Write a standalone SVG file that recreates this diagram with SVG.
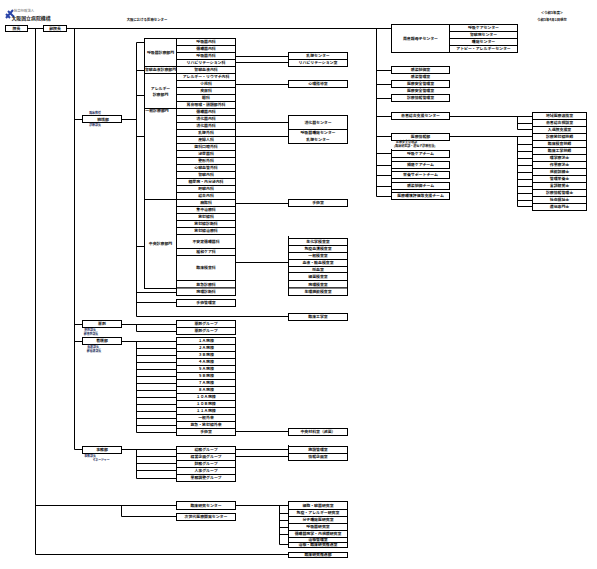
<svg xmlns="http://www.w3.org/2000/svg" width="597" height="569" viewBox="0 0 597 569">
<style>
rect{fill:#fff;stroke:#000;stroke-width:1}
path{fill:none;stroke:#000;stroke-width:1}
text{font-family:"Noto Sans CJK JP","Liberation Sans",sans-serif;font-size:3.9px;font-weight:700;fill:#111;text-anchor:middle}
.l{fill:#1a2a5a;font-size:2.9px}
.m{font-size:3px}
.t{font-size:4.9px;fill:#222}
.s{font-size:3.4px}
</style>
<rect x="0" y="0" width="597" height="569" style="fill:#fff;stroke:none"/>
<g id="header">
<path d="M6 18L13 10M8 11L14 17M6 14L10 18" style="stroke:#2a44a8;stroke-width:2"/>
<text x="24" y="12" class="s" style="fill:#999">独立行政法人</text>
<text x="31" y="20" class="t">大阪国立病院機構</text>
<text x="147" y="21" class="s">大阪における医療センター</text>
<text x="552" y="14" class="s">＜令和5年度＞</text>
<text x="552" y="21" class="s">令和5年4月1日現在</text>
</g>
<g id="connectors">
<path d="M28 28.5H43M66 28.5H391.5M35.5 28.5V554.5H288.5M74.5 28.5V449.5H82.5M74.5 119.5H82.5M74.5 324.5H82.5M74.5 341.5H82.5"/>
<path d="M121.5 119.5H136.5M136.5 42.5V316.5H288.5M136.5 42.5H144.5M136.5 70.5H144.5M136.5 95.5H144.5M136.5 136.5H144.5M136.5 246.5H144.5M136.5 292.5H176.5M136.5 302.5H176.5"/>
<path d="M235.5 56.5H288.5M235.5 62.5H288.5M235.5 84.5H288.5M235.5 122.5H288.5M235.5 136.5H288.5M235.5 203.5H288.5M235.5 262.5H288.5M288.5 236V296"/>
<path d="M121.5 324.5H176.5M136.5 324.5V331.5H176.5"/>
<path d="M121.5 341.5H176.5M136.5 341.5V432.5H176.5M136.5 348.5H176.5M136.5 355.5H176.5M136.5 362.5H176.5M136.5 369.5H176.5M136.5 376.5H176.5M136.5 383.5H176.5M136.5 390.5H176.5M136.5 397.5H176.5M136.5 404.5H176.5M136.5 411.5H176.5M136.5 418.5H176.5M136.5 425.5H176.5M235.5 431.5H288.5"/>
<path d="M121.5 449.5H176.5M136.5 449.5V478.5H176.5M136.5 456.5H176.5M136.5 463.5H176.5M136.5 470.5H176.5M235.5 449.5H288.5M235.5 456.5H288.5M288.5 445V461"/>
<path d="M35.5 505.5H176.5M121.5 505.5V516.5H176.5M235.5 505.5H288.5M279.5 505.5V544.5H288.5M279.5 513.5H288.5M279.5 520.5H288.5M279.5 527.5H288.5M279.5 534.5H288.5"/>
<path d="M376.5 28.5V196.5H391.5M376.5 70.5H391.5M376.5 84.5H391.5M376.5 98.5H391.5M376.5 116.5H391.5M376.5 136.5H391.5M376.5 153.5H391.5M376.5 165.5H391.5M376.5 175.5H391.5M376.5 186.5H391.5M391.5 149V200"/>
<path d="M449.5 116.5H532.5M517.5 116.5V129.5H532.5M517.5 123.5H532.5M449.5 136.5H532.5M517.5 136.5V206.5H532.5M517.5 144.5H532.5M517.5 151.5H532.5M517.5 158.5H532.5M517.5 165.5H532.5M517.5 172.5H532.5M517.5 179.5H532.5M517.5 186.5H532.5M517.5 193.5H532.5M517.5 200.5H532.5"/>
</g>
<g id="n-director"><rect x="5.5" y="25.5" width="22" height="6"/><text x="16.5" y="30">院長</text></g>
<g id="n-vice"><rect x="43.5" y="25.5" width="23" height="6"/><text x="55" y="30">副院長</text></g>
<g id="n-clin"><rect x="82.5" y="115.5" width="39" height="7"/><text x="95" y="114" class="l">臨床教授</text><text x="103" y="120.5">統括部</text><text x="95" y="126" class="l">診療部長</text></g>
<g id="d1"><rect x="144.5" y="38.5" width="32" height="28"/><text x="160.5" y="54">呼吸器診療部門</text></g>
<g id="d2"><rect x="144.5" y="66.5" width="32" height="7"/><text x="160.5" y="71.4">腎臓血液診療部門</text></g>
<g id="d3"><rect x="144.5" y="73.5" width="32" height="35"/><text x="160.5" y="89.5">アレルギー</text><text x="160.5" y="95.5">診療部門</text></g>
<g id="d4"><rect x="144.5" y="108.5" width="32" height="91"/><text x="157" y="112">一般診療部門</text></g>
<g id="d5"><rect x="144.5" y="199.5" width="32" height="89"/><text x="160.5" y="245">中央診療部門</text></g>
<g id="r1"><rect x="176.5" y="38.5" width="59" height="7"/><text x="206" y="43.4">呼吸器内科</text></g>
<g id="r2"><rect x="176.5" y="45.5" width="59" height="7"/><text x="206" y="50.4">循環器内科</text></g>
<g id="r3"><rect x="176.5" y="52.5" width="59" height="7"/><text x="206" y="57.4">呼吸器外科</text></g>
<g id="r4"><rect x="176.5" y="59.5" width="59" height="7"/><text x="206" y="64.4">リハビリテーション科</text></g>
<g id="r5"><rect x="176.5" y="66.5" width="59" height="7"/><text x="206" y="71.4">腎臓血液内科</text></g>
<g id="r6"><rect x="176.5" y="73.5" width="59" height="7"/><text x="206" y="78.4">アレルギー・リウマチ内科</text></g>
<g id="r7"><rect x="176.5" y="80.5" width="59" height="7"/><text x="206" y="85.4">小児科</text></g>
<g id="r8"><rect x="176.5" y="87.5" width="59" height="7"/><text x="206" y="92.4">皮膚科</text></g>
<g id="r9"><rect x="176.5" y="94.5" width="59" height="7"/><text x="206" y="99.4">眼科</text></g>
<g id="r10"><rect x="176.5" y="101.5" width="59" height="7"/><text x="206" y="106.4">耳鼻咽喉・頭頸部外科</text></g>
<g id="r11"><rect x="176.5" y="108.5" width="59" height="7"/><text x="206" y="113.4">循環器内科</text></g>
<g id="r12"><rect x="176.5" y="115.5" width="59" height="7"/><text x="206" y="120.4">消化器内科</text></g>
<g id="r13"><rect x="176.5" y="122.5" width="59" height="7"/><text x="206" y="127.4">消化器外科</text></g>
<g id="r14"><rect x="176.5" y="129.5" width="59" height="7"/><text x="206" y="134.4">乳腺外科</text></g>
<g id="r15"><rect x="176.5" y="136.5" width="59" height="7"/><text x="206" y="141.4">産婦人科</text></g>
<g id="r16"><rect x="176.5" y="143.5" width="59" height="7"/><text x="206" y="148.4">歯科口腔外科</text></g>
<g id="r17"><rect x="176.5" y="150.5" width="59" height="7"/><text x="206" y="155.4">泌尿器科</text></g>
<g id="r18"><rect x="176.5" y="157.5" width="59" height="7"/><text x="206" y="162.4">整形外科</text></g>
<g id="r19"><rect x="176.5" y="164.5" width="59" height="7"/><text x="206" y="169.4">心臓血管外科</text></g>
<g id="r20"><rect x="176.5" y="171.5" width="59" height="7"/><text x="206" y="176.4">腎臓内科</text></g>
<g id="r21"><rect x="176.5" y="178.5" width="59" height="7"/><text x="206" y="183.4">糖尿病・内分泌内科</text></g>
<g id="r22"><rect x="176.5" y="185.5" width="59" height="7"/><text x="206" y="190.4">肝臓内科</text></g>
<g id="r23"><rect x="176.5" y="192.5" width="59" height="7"/><text x="206" y="197.4">総合内科</text></g>
<g id="r24"><rect x="176.5" y="199.5" width="59" height="7"/><text x="206" y="204.4">麻酔科</text></g>
<g id="r25"><rect x="176.5" y="206.5" width="59" height="7"/><text x="206" y="211.4">集中治療科</text></g>
<g id="r26"><rect x="176.5" y="213.5" width="59" height="7"/><text x="206" y="218.4">放射線科</text></g>
<g id="r27"><rect x="176.5" y="220.5" width="59" height="7"/><text x="206" y="225.4">放射線診断科</text></g>
<g id="r28"><rect x="176.5" y="227.5" width="59" height="7"/><text x="206" y="232.4">放射線治療科</text></g>
<g id="r29"><rect x="176.5" y="234.5" width="59" height="14"/><text x="206" y="242.9">不安定循環器科</text></g>
<g id="r30"><rect x="176.5" y="248.5" width="59" height="7"/><text x="206" y="253.4">緩和ケア科</text></g>
<g id="r31"><rect x="176.5" y="255.5" width="59" height="25"/><text x="206" y="269.4">臨床検査科</text></g>
<g id="r32"><rect x="176.5" y="280.5" width="59" height="7.5"/><text x="206" y="285.6">救急診療科</text></g>
<g id="r33"><rect x="176.5" y="288" width="59" height="7.5"/><text x="206" y="293.2">病理診断科</text></g>
<g id="r34"><rect x="176.5" y="299.5" width="59" height="7"/><text x="206" y="304.4">手術管理室</text></g>
<g id="c1"><rect x="288.5" y="52.5" width="59" height="7"/><text x="318" y="57.4">乳腺センター</text></g>
<g id="c2"><rect x="288.5" y="59.5" width="59" height="7"/><text x="318" y="64.4">リハビリテーション室</text></g>
<g id="c3"><rect x="288.5" y="80.5" width="59" height="7"/><text x="318" y="85.4">心理指導室</text></g>
<g id="c4"><rect x="288.5" y="115.5" width="59" height="14"/><text x="318" y="124">消化器センター</text></g>
<g id="c5"><rect x="288.5" y="129.5" width="59" height="14"/><text x="318" y="134.4">呼吸器腫瘍センター</text><text x="318" y="140.8">乳腺センター</text></g>
<g id="c6"><rect x="288.5" y="199.5" width="59" height="7"/><text x="318" y="204.4">手術室</text></g>
<g id="c7"><rect x="288.5" y="238.5" width="59" height="7"/><text x="318" y="243.4">生化学検査室</text></g>
<g id="c8"><rect x="288.5" y="245.5" width="59" height="7"/><text x="318" y="250.4">免疫血清検査室</text></g>
<g id="c9"><rect x="288.5" y="252.5" width="59" height="7"/><text x="318" y="257.4">一般検査室</text></g>
<g id="c10"><rect x="288.5" y="259.5" width="59" height="7"/><text x="318" y="264.4">血液・輸血検査室</text></g>
<g id="c11"><rect x="288.5" y="266.5" width="59" height="6"/><text x="318" y="270.9">採血室</text></g>
<g id="c12"><rect x="288.5" y="272.5" width="59" height="8"/><text x="318" y="277.9">細菌検査室</text></g>
<g id="c13"><rect x="288.5" y="280.5" width="59" height="7.5"/><text x="318" y="285.6">病理検査室</text></g>
<g id="c14"><rect x="288.5" y="288" width="59" height="7.5"/><text x="318" y="293.2">生理機能検査室</text></g>
<g id="c15"><rect x="288.5" y="313.5" width="59" height="7"/><text x="318" y="318.4">臨床工学室</text></g>
<g id="p1"><rect x="391.5" y="24.5" width="58" height="28"/><text x="420.5" y="40">周産期母子センター</text></g>
<g id="p2"><rect x="449.5" y="24.5" width="68" height="7"/><text x="483.5" y="29.4">呼吸ケアセンター</text></g>
<g id="p3"><rect x="449.5" y="31.5" width="68" height="7"/><text x="483.5" y="36.4">腎臓病センター</text></g>
<g id="p4"><rect x="449.5" y="38.5" width="68" height="7"/><text x="483.5" y="43.4">腫瘍センター</text></g>
<g id="p5"><rect x="449.5" y="45.5" width="68" height="7"/><text x="483.5" y="50.4">アトピー・アレルギーセンター</text></g>
<g id="q1"><rect x="391.5" y="66.5" width="58" height="7"/><text x="420.5" y="71.4">感染制御室</text><text x="420.5" y="77.5">感染管理室</text></g>
<g id="q2"><rect x="391.5" y="80.5" width="58" height="7"/><text x="420.5" y="85.4">医療安全管理室</text><text x="420.5" y="91.5">医療安全管理室</text></g>
<g id="q3"><rect x="391.5" y="94.5" width="58" height="7"/><text x="420.5" y="99.4">診療情報管理室</text></g>
<g id="q4"><rect x="391.5" y="112.5" width="58" height="7"/><text x="420.5" y="117.4">患者総合支援センター</text></g>
<g id="q5"><rect x="391.5" y="133.5" width="58" height="7"/><text x="420.5" y="138.4">医療情報部</text><text x="396" y="143.2" class="m" style="text-anchor:start">医療安全管理部</text><text x="394" y="147.2" class="m" style="text-anchor:start">(臨床研究部・遺伝子診療担当)</text></g>
<g id="q6"><rect x="391.5" y="150.5" width="58" height="7"/><text x="420.5" y="155.4">呼吸ケアチーム</text></g>
<g id="q7"><rect x="391.5" y="161.5" width="58" height="7"/><text x="420.5" y="166.4">褥瘡ケアチーム</text></g>
<g id="q8"><rect x="391.5" y="171.5" width="58" height="7"/><text x="420.5" y="176.4">栄養サポートチーム</text></g>
<g id="q9"><rect x="391.5" y="182.5" width="58" height="7"/><text x="420.5" y="187.4">感染制御チーム</text></g>
<g id="q10"><rect x="391.5" y="192.5" width="58" height="7"/><text x="420.5" y="197.4">医療環境評価等支援チーム</text></g>
<g id="s1"><rect x="532.5" y="112.5" width="54" height="7"/><text x="559.5" y="117.4">地域医療連携室</text></g>
<g id="s2"><rect x="532.5" y="119.5" width="54" height="7"/><text x="559.5" y="124.4">患者総合相談室</text></g>
<g id="s3"><rect x="532.5" y="126.5" width="54" height="7"/><text x="559.5" y="131.4">入退院支援室</text></g>
<g id="s4"><rect x="532.5" y="133.5" width="54" height="7"/><text x="559.5" y="138.4">診療放射線技師</text></g>
<g id="s5"><rect x="532.5" y="140.5" width="54" height="7"/><text x="559.5" y="145.4">臨床検査技師</text></g>
<g id="s6"><rect x="532.5" y="147.5" width="54" height="7"/><text x="559.5" y="152.4">臨床工学技師</text></g>
<g id="s7"><rect x="532.5" y="154.5" width="54" height="7"/><text x="559.5" y="159.4">理学療法士</text></g>
<g id="s8"><rect x="532.5" y="161.5" width="54" height="7"/><text x="559.5" y="166.4">作業療法士</text></g>
<g id="s9"><rect x="532.5" y="168.5" width="54" height="7"/><text x="559.5" y="173.4">視能訓練士</text></g>
<g id="s10"><rect x="532.5" y="175.5" width="54" height="7"/><text x="559.5" y="180.4">管理栄養士</text></g>
<g id="s11"><rect x="532.5" y="182.5" width="54" height="7"/><text x="559.5" y="187.4">言語聴覚士</text></g>
<g id="s12"><rect x="532.5" y="189.5" width="54" height="7"/><text x="559.5" y="194.4">診療情報管理士</text></g>
<g id="s13"><rect x="532.5" y="196.5" width="54" height="7"/><text x="559.5" y="201.4">社会福祉士</text></g>
<g id="s14"><rect x="532.5" y="203.5" width="54" height="7"/><text x="559.5" y="208.4">遺伝専門士</text></g>
<g id="ph"><rect x="82.5" y="320.5" width="39" height="7"/><text x="102" y="325.4">薬剤</text><text x="90" y="330.6" class="l">薬剤部長</text><text x="91" y="335" class="l">副薬剤部長</text></g>
<g id="ph1"><rect x="176.5" y="320.5" width="59" height="7"/><text x="206" y="325.4">薬剤グループ</text></g>
<g id="ph2"><rect x="176.5" y="327.5" width="59" height="7"/><text x="206" y="332.4">薬剤グループ</text></g>
<g id="nu"><rect x="82.5" y="337.5" width="39" height="7"/><text x="102" y="342.4">看護部</text><text x="93" y="347.8" class="l">看護部長</text><text x="94" y="352.2" class="l">副看護部長</text></g>
<g id="w1"><rect x="176.5" y="337.5" width="59" height="7"/><text x="206" y="342.4">１Ａ病棟</text></g>
<g id="w2"><rect x="176.5" y="344.5" width="59" height="7"/><text x="206" y="349.4">２Ａ病棟</text></g>
<g id="w3"><rect x="176.5" y="351.5" width="59" height="7"/><text x="206" y="356.4">３Ｂ病棟</text></g>
<g id="w4"><rect x="176.5" y="358.5" width="59" height="7"/><text x="206" y="363.4">４Ａ病棟</text></g>
<g id="w5"><rect x="176.5" y="365.5" width="59" height="7"/><text x="206" y="370.4">５Ａ病棟</text></g>
<g id="w6"><rect x="176.5" y="372.5" width="59" height="7"/><text x="206" y="377.4">５Ｂ病棟</text></g>
<g id="w7"><rect x="176.5" y="379.5" width="59" height="7"/><text x="206" y="384.4">７Ａ病棟</text></g>
<g id="w8"><rect x="176.5" y="386.5" width="59" height="7"/><text x="206" y="391.4">８Ａ病棟</text></g>
<g id="w9"><rect x="176.5" y="393.5" width="59" height="7"/><text x="206" y="398.4">１０Ａ病棟</text></g>
<g id="w10"><rect x="176.5" y="400.5" width="59" height="7"/><text x="206" y="405.4">１０Ｂ病棟</text></g>
<g id="w11"><rect x="176.5" y="407.5" width="59" height="7"/><text x="206" y="412.4">１１Ａ病棟</text></g>
<g id="w12"><rect x="176.5" y="414.5" width="59" height="7"/><text x="206" y="419.4">一般外来</text></g>
<g id="w13"><rect x="176.5" y="421.5" width="59" height="7"/><text x="206" y="426.4">救急・放射線外来</text></g>
<g id="w14"><rect x="176.5" y="428.5" width="59" height="7"/><text x="206" y="433.4">手術室</text></g>
<g id="w15"><rect x="288.5" y="428.5" width="59" height="7"/><text x="318" y="433.4">中央材料室（滅菌）</text></g>
<g id="ad"><rect x="82.5" y="446.5" width="39" height="7"/><text x="102" y="451.4">事務部</text><text x="90" y="456.8" class="l">事務部長</text><text x="101" y="461.2" class="l">マネージャー</text></g>
<g id="a1"><rect x="176.5" y="446.5" width="59" height="7"/><text x="206" y="451.4">総務グループ</text></g>
<g id="a2"><rect x="176.5" y="453.5" width="59" height="7"/><text x="206" y="458.4">経営企画グループ</text></g>
<g id="a3"><rect x="176.5" y="460.5" width="59" height="7"/><text x="206" y="465.4">財務グループ</text></g>
<g id="a4"><rect x="176.5" y="467.5" width="59" height="7"/><text x="206" y="472.4">人事グループ</text></g>
<g id="a5"><rect x="176.5" y="474.5" width="59" height="7"/><text x="206" y="479.4">業務調整グループ</text></g>
<g id="a6"><rect x="288.5" y="446.5" width="59" height="7"/><text x="318" y="451.4">施設管理室</text></g>
<g id="a7"><rect x="288.5" y="453.5" width="59" height="7"/><text x="318" y="458.4">情報企画室</text></g>
<g id="e1"><rect x="176.5" y="501.5" width="59" height="8"/><text x="206" y="506.9">臨床研究センター</text></g>
<g id="e2"><rect x="176.5" y="513.5" width="59" height="7"/><text x="206" y="518.4">次世代医療開発センター</text></g>
<g id="f1"><rect x="288.5" y="501.5" width="59" height="8"/><text x="318" y="506.9">細胞・臓器研究室</text></g>
<g id="f2"><rect x="288.5" y="509.5" width="59" height="7"/><text x="318" y="514.4">免疫・アレルギー研究室</text></g>
<g id="f3"><rect x="288.5" y="516.5" width="59" height="7"/><text x="318" y="521.4">分子腫瘍医研究室</text></g>
<g id="f4"><rect x="288.5" y="523.5" width="59" height="7"/><text x="318" y="528.4">呼吸器研究室</text></g>
<g id="f5"><rect x="288.5" y="530.5" width="59" height="7"/><text x="318" y="535.4">循環器病学・内視鏡研究室</text></g>
<g id="f6"><rect x="288.5" y="537.5" width="59" height="5"/><text x="318" y="541.3">治験管理室</text></g>
<g id="f7"><rect x="288.5" y="542.5" width="59" height="5"/><text x="318" y="546.3">治験・臨床研究推進室</text></g>
<g id="f8"><rect x="288.5" y="552.5" width="59" height="5"/><text x="318" y="556.4">臨床研究推進部</text></g>
</svg>
